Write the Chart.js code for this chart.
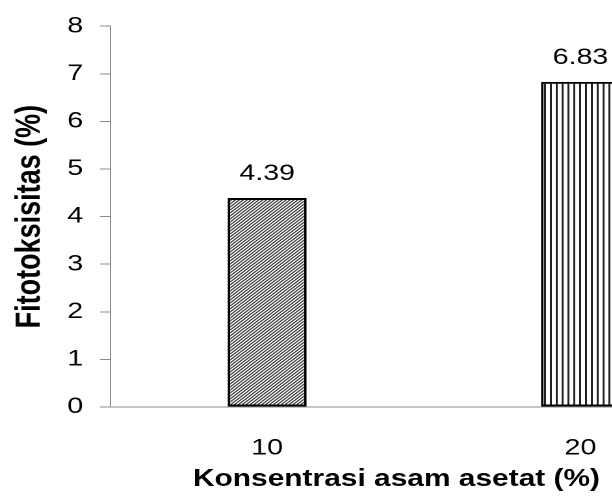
<!DOCTYPE html>
<html>
<head>
<meta charset="utf-8">
<script src="https://cdn.jsdelivr.net/npm/chart.js@4/dist/chart.umd.min.js"></script>
<style>
  html, body { margin: 0; padding: 0; background: #fff; overflow: hidden; }
  /* the source figure is stretched sideways, so the whole chart is drawn narrow and widened */
  #wrap { position: relative; width: 567px; height: 497px; transform: scaleX(1.3); transform-origin: 0 0; }
  #chart { display: block; }
  #xTitle {
    position: absolute; left: 0; top: 467px; width: 610px; text-align: center;
    font: bold 23px "Liberation Sans", Arial, sans-serif; line-height: 23px; color: #000;
    white-space: nowrap;
  }
</style>
</head>
<body>
<div id="wrap">
  <canvas id="chart" width="567" height="497"></canvas>
  <div id="xTitle">Konsentrasi asam asetat (%)</div>
</div>
<script>
// Fitotoksisitas vs konsentrasi asam asetat
const categories = ['10', '20'];
const fitotoksisitas = [4.39, 6.83];
const yMin = 0, yMax = 8, yStep = 1;

const FONT = '"Liberation Sans", Arial, sans-serif';

// hatch fills, drawn at 2x and scaled back so lines stay thin
function makePattern(w, h, draw) {
  const c = document.createElement('canvas');
  c.width = w; c.height = h;
  const g = c.getContext('2d');
  g.fillStyle = '#fff';
  g.fillRect(0, 0, w, h);
  draw(g);
  const p = document.createElement('canvas').getContext('2d').createPattern(c, 'repeat');
  p.setTransform(new DOMMatrix([0.5, 0, 0, 0.5, 0, 0]));
  return p;
}

const diagonal = makePattern(6, 6, g => {
  g.strokeStyle = '#333';
  g.lineWidth = 2;
  g.beginPath();
  g.moveTo(-1, 7); g.lineTo(7, -1);
  g.moveTo(-4, 4); g.lineTo(4, -4);
  g.moveTo(2, 10); g.lineTo(10, 2);
  g.stroke();
});

const vertical = makePattern(9, 2, g => {
  g.fillStyle = '#222';
  g.fillRect(0, 0, 3, 2);
});

const valueLabels = {
  id: 'valueLabels',
  afterDatasetsDraw(chart) {
    const ctx = chart.ctx;
    const meta = chart.getDatasetMeta(0);
    ctx.save();
    ctx.font = '22px ' + FONT;
    ctx.fillStyle = '#000';
    ctx.textAlign = 'center';
    ctx.textBaseline = 'alphabetic';
    meta.data.forEach((bar, i) => {
      ctx.fillText(fitotoksisitas[i].toFixed(2), bar.x, bar.y - 18);
    });
    ctx.restore();
  }
};

new Chart(document.getElementById('chart'), {
  type: 'bar',
  data: {
    labels: categories,
    datasets: [{
      data: fitotoksisitas,
      backgroundColor: [diagonal, vertical],
      borderColor: '#000',
      borderWidth: 2,
      borderSkipped: false,
      categoryPercentage: 1,
      barPercentage: 0.252
    }]
  },
  options: {
    responsive: false,
    animation: false,
    devicePixelRatio: 2,
    layout: { padding: { top: 21, left: 0, right: 0, bottom: 0 } },
    plugins: { legend: { display: false }, tooltip: { enabled: false } },
    scales: {
      x: {
        grid: { display: false },
        border: { color: '#8c8c8c', width: 1 },
        ticks: { color: '#000', font: { family: FONT, size: 22 }, padding: 20 },
        afterFit: s => { s.height = 90; }
      },
      y: {
        min: yMin,
        max: yMax,
        grid: { drawOnChartArea: false, drawTicks: true, tickLength: 8, color: '#8c8c8c' },
        border: { color: '#8c8c8c', width: 1 },
        ticks: { stepSize: yStep, color: '#000', font: { family: FONT, size: 22 }, padding: 13 },
        title: {
          display: true,
          text: 'Fitotoksisitas (%)',
          color: '#000',
          font: { family: FONT, size: 27, weight: 'bold' },
          padding: { top: 7, bottom: 0 }
        },
        afterFit: s => { s.width = 85; }
      }
    }
  },
  plugins: [valueLabels]
});
</script>
</body>
</html>
